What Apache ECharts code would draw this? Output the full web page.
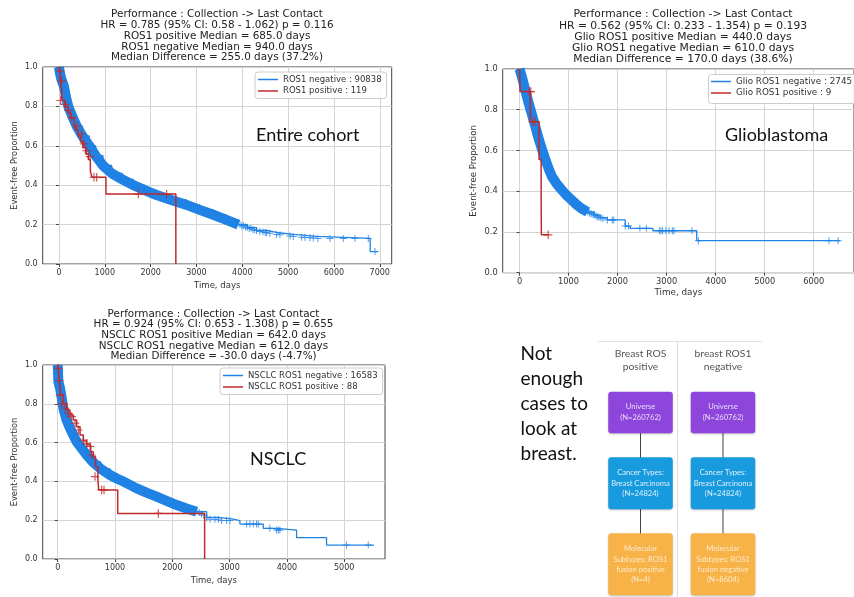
<!DOCTYPE html>
<html><head><meta charset="utf-8">
<script src="https://cdn.jsdelivr.net/npm/echarts@6/dist/echarts.min.js"></script>
<style>html,body{margin:0;padding:0;background:#fff}#c{width:854px;height:597px}</style>
</head><body><div id="c"></div>
<script>
// ---------------- DATA ----------------
// Panel 1: Entire cohort
const p1Titles = ["Performance : Collection -> Last Contact", "HR = 0.785 (95% CI: 0.58 - 1.062) p = 0.116", "ROS1 positive Median = 685.0 days", "ROS1 negative Median = 940.0 days", "Median Difference = 255.0 days (37.2%)"];
const p1Legend = ["ROS1 negative : 90838", "ROS1 positive : 119"];
const p1XTicks = [0, 1000, 2000, 3000, 4000, 5000, 6000, 7000];
const p1NegT = [0, 20, 50, 80, 110, 150, 204, 290, 385, 510, 662, 800, 960, 1150, 1380, 1622, 1870, 2131, 2450, 2785, 3070, 3367, 3640, 3913, 4110, 4313, 4530, 4749, 5113, 5622, 6790, 6960];
const p1NegS = [1.0, 0.97, 0.94, 0.92, 0.9, 0.85, 0.8, 0.75, 0.7, 0.65, 0.6, 0.55, 0.5, 0.46, 0.43, 0.4, 0.375, 0.35, 0.325, 0.3, 0.275, 0.25, 0.225, 0.2, 0.185, 0.17, 0.16, 0.15, 0.14, 0.13, 0.063, 0.063];
const p1NegCensT = [3950, 3990, 4030, 4070, 4110, 4150, 4190, 4230, 4270, 4310, 4380, 4450, 4500, 4531, 4600, 4749, 4822, 5040, 5113, 5295, 5367, 5476, 5549, 5650, 5913, 6204, 6458, 6749, 6895];
const p1NegCensS = [0.2, 0.193, 0.196, 0.188, 0.186, 0.18, 0.182, 0.175, 0.172, 0.17, 0.165, 0.163, 0.16, 0.158, 0.156, 0.15, 0.148, 0.142, 0.14, 0.136, 0.135, 0.133, 0.132, 0.13, 0.13, 0.13, 0.13, 0.13, 0.063];
const p1PosT = [0, 20, 30, 60, 70, 135, 200, 250, 330, 370, 420, 470, 520, 580, 640, 685, 720, 1025, 2550];
const p1PosS = [1.0, 0.97, 0.93, 0.88, 0.83, 0.8, 0.77, 0.74, 0.71, 0.68, 0.65, 0.62, 0.59, 0.56, 0.53, 0.47, 0.44, 0.355, 0.0];
const p1PosCensT = [22, 58, 36, 131, 204, 276, 385, 495, 545, 604, 676, 764, 822, 1731, 2349];
const p1PosCensS = [0.98, 0.93, 0.83, 0.81, 0.78, 0.745, 0.7, 0.66, 0.61, 0.575, 0.545, 0.44, 0.44, 0.355, 0.355];

// Panel 2: Glioblastoma
const p2Titles = ["Performance : Collection -> Last Contact", "HR = 0.562 (95% CI: 0.233 - 1.354) p = 0.193", "Glio ROS1 positive Median = 440.0 days", "Glio ROS1 negative Median = 610.0 days", "Median Difference = 170.0 days (38.6%)"];
const p2Legend = ["Glio ROS1 negative : 2745", "Glio ROS1 positive : 9"];
const p2XTicks = [0, 1000, 2000, 3000, 4000, 5000, 6000];
const p2NegT = [0, 60, 133, 200, 265, 330, 398, 465, 531, 610, 663, 760, 862, 960, 1061, 1160, 1260, 1390, 1525, 1650, 1790, 2155, 2255, 2719, 3614, 6532];
const p2NegS = [1.0, 0.95, 0.88, 0.82, 0.766, 0.71, 0.651, 0.6, 0.553, 0.5, 0.471, 0.435, 0.406, 0.38, 0.357, 0.335, 0.316, 0.298, 0.283, 0.27, 0.259, 0.229, 0.218, 0.206, 0.157, 0.157];
const p2NegCensT = [1393, 1430, 1459, 1500, 1525, 1560, 1592, 1620, 1658, 1700, 1790, 1890, 1923, 2155, 2222, 2454, 2586, 2851, 2885, 2918, 2984, 3050, 3117, 3150, 3515, 3647, 6313, 6499];
const p2NegCensS = [0.298, 0.292, 0.29, 0.286, 0.283, 0.28, 0.275, 0.272, 0.27, 0.265, 0.259, 0.259, 0.259, 0.229, 0.229, 0.218, 0.218, 0.206, 0.206, 0.206, 0.206, 0.206, 0.206, 0.206, 0.206, 0.157, 0.157, 0.157];
const p2PosT = [0, 10, 219, 398, 440, 445, 597];
const p2PosS = [1.0, 0.889, 0.741, 0.556, 0.371, 0.186, 0.186];
const p2PosCensT = [199, 230, 265, 318, 584];
const p2PosCensS = [0.889, 0.889, 0.741, 0.741, 0.186];

// Panel 3: NSCLC
const p3Titles = ["Performance : Collection -> Last Contact", "HR = 0.924 (95% CI: 0.653 - 1.308) p = 0.655", "NSCLC ROS1 positive Median = 642.0 days", "NSCLC ROS1 negative Median = 612.0 days", "Median Difference = -30.0 days (-4.7%)"];
const p3Legend = ["NSCLC ROS1 negative : 16583", "NSCLC ROS1 positive : 88"];
const p3XTicks = [0, 1000, 2000, 3000, 4000, 5000];
const p3NegT = [0, 12, 41, 70, 99, 150, 215, 270, 331, 420, 506, 612, 750, 913, 1030, 1145, 1260, 1378, 1550, 1727, 1900, 2076, 2250, 2424, 2599, 2800, 3064, 3180, 3587, 3820, 4169, 4692, 5520];
const p3NegS = [1.0, 0.914, 0.88, 0.83, 0.777, 0.72, 0.674, 0.64, 0.605, 0.57, 0.536, 0.5, 0.465, 0.433, 0.415, 0.399, 0.382, 0.364, 0.342, 0.321, 0.3, 0.278, 0.26, 0.244, 0.215, 0.205, 0.198, 0.18, 0.158, 0.149, 0.11, 0.072, 0.072];
const p3NegCensT = [2470, 2510, 2550, 2600, 2657, 2744, 2802, 2860, 2948, 3006, 3297, 3355, 3413, 3471, 3500, 3703, 3820, 3849, 3878, 5041, 5419];
const p3NegCensS = [0.24, 0.232, 0.226, 0.212, 0.205, 0.205, 0.205, 0.198, 0.198, 0.198, 0.18, 0.18, 0.18, 0.18, 0.18, 0.158, 0.149, 0.149, 0.149, 0.072, 0.072];
const p3PosT = [0, 29, 52, 99, 157, 215, 273, 331, 390, 448, 506, 576, 622, 660, 700, 715, 1047, 2564];
const p3PosS = [1.0, 0.914, 0.845, 0.802, 0.768, 0.742, 0.716, 0.682, 0.639, 0.608, 0.588, 0.553, 0.527, 0.476, 0.416, 0.356, 0.235, 0.0];
const p3PosCensT = [12, 29, 41, 70, 128, 186, 244, 302, 360, 448, 506, 564, 593, 651, 767, 808, 1756];
const p3PosCensS = [0.983, 0.92, 0.845, 0.8, 0.777, 0.75, 0.734, 0.7, 0.665, 0.613, 0.595, 0.58, 0.536, 0.425, 0.356, 0.356, 0.235];

// Annotations and flowchart text
const panelNotes = ["Entire cohort", "Glioblastoma", "NSCLC"];
const sideNote = ["Not", "enough", "cases to", "look at", "breast."];
const flowHeaders = ["Breast ROS\npositive", "breast ROS1\nnegative"];
const flowUniverse = ["Universe\n(N=260762)", "Universe\n(N=260762)"];
const flowCancer = ["Cancer Types:\nBreast Carcinoma\n(N=24824)", "Cancer Types:\nBreast Carcinoma\n(N=24824)"];
const flowSubtype = ["Molecular\nSubtypes: ROS1\nfusion positive\n(N=4)", "Molecular\nSubtypes: ROS1\nfusion negative\n(N=8604)"];

// ---------------- BUILD ----------------
const BLUE = '#1f82e4', RED = '#bf2a2c';
const FONT = 'DejaVu Sans';
const CROSS = 'path://M-10,-1.4 L10,-1.4 L10,1.4 L-10,1.4 Z M-1.4,-10 L1.4,-10 L1.4,10 L-1.4,10 Z';
const pairs = (t, s) => t.map((v, i) => [v, s[i]]);

const panels = [
  {grid: {left: 42.7, top: 67, width: 349, height: 197}, xmin: -355, xmax: 7260, ticks: p1XTicks, nameGap: 17, k: 1,
   negT: p1NegT, negS: p1NegS, nct: p1NegCensT, ncs: p1NegCensS, posT: p1PosT, posS: p1PosS, pct: p1PosCensT, pcs: p1PosCensS,
   legend: p1Legend, legendPos: {left: 255, top: 72}, boxed: true, titles: p1Titles, titlePos: [217, 9], lh: 10.8, dense: 3913},
  {grid: {left: 502.7, top: 69, width: 360.3, height: 203.7}, xmin: -344, xmax: 6822, ticks: p2XTicks, nameGap: 16, k: 1.035,
   negT: p2NegT, negS: p2NegS, nct: p2NegCensT, ncs: p2NegCensS, posT: p2PosT, posS: p2PosS, pct: p2PosCensT, pcs: p2PosCensS,
   legend: p2Legend, legendPos: {left: 708, top: 74}, boxed: false, titles: p2Titles, titlePos: [683, 9], lh: 11.25, dense: 1390},
  {grid: {left: 42.7, top: 365, width: 342.3, height: 194}, xmin: -262, xmax: 5712, ticks: p3XTicks, nameGap: 17, k: 1,
   negT: p3NegT, negS: p3NegS, nct: p3NegCensT, ncs: p3NegCensS, posT: p3PosT, posS: p3PosS, pct: p3PosCensT, pcs: p3PosCensS,
   legend: p3Legend, legendPos: {left: 220, top: 368}, boxed: true, titles: p3Titles, titlePos: [213.5, 308.5], lh: 10.7, dense: 2424}
];

const grid = [], xAxis = [], yAxis = [], series = [], legend = [], graphic = [];
panels.forEach((p, i) => {
  grid.push(Object.assign({show: true, borderColor: '#444', borderWidth: 1, backgroundColor: 'transparent'}, p.grid));
  xAxis.push({gridIndex: i, type: 'value', min: p.xmin, max: p.xmax,
    axisLine: {show: false},
    axisTick: {show: true, customValues: p.ticks, length: 3, lineStyle: {color: '#444'}},
    axisLabel: {customValues: p.ticks, fontSize: 8 * p.k, color: '#333', margin: 5, fontFamily: FONT, formatter: v => String(v)},
    splitLine: {show: true, lineStyle: {color: '#d4d4d4', width: 1}},
    name: 'Time, days', nameLocation: 'middle', nameGap: p.nameGap,
    nameTextStyle: {fontSize: 8.5 * p.k, color: '#333', fontFamily: FONT}});
  yAxis.push({gridIndex: i, type: 'value', min: 0, max: 1, interval: 0.2,
    axisLine: {show: false},
    axisTick: {show: true, length: 3, lineStyle: {color: '#444'}},
    axisLabel: {fontSize: 8 * p.k, color: '#333', margin: 5, fontFamily: FONT, formatter: v => v.toFixed(1)},
    splitLine: {show: true, lineStyle: {color: '#d4d4d4', width: 1}},
    name: 'Event-free Proportion', nameLocation: 'middle', nameGap: 24, nameRotate: 90,
    nameTextStyle: {fontSize: 8.3 * p.k, color: '#333', fontFamily: FONT}});
  const negPts = pairs(p.negT, p.negS);
  series.push({type: 'line', name: 'band' + i, xAxisIndex: i, yAxisIndex: i, symbol: 'none', silent: true,
    data: negPts.filter(d => d[0] <= p.dense),
    lineStyle: {color: BLUE, width: 10, cap: 'butt', join: 'round'}, itemStyle: {color: BLUE}, z: 2});
  series.push({type: 'line', name: p.legend[0], xAxisIndex: i, yAxisIndex: i, symbol: 'none', step: 'end',
    data: negPts, lineStyle: {color: BLUE, width: 1.3}, itemStyle: {color: BLUE}, z: 3});
  series.push({type: 'scatter', name: 'negc' + i, xAxisIndex: i, yAxisIndex: i, symbol: CROSS, symbolSize: 7,
    data: pairs(p.nct, p.ncs), itemStyle: {color: BLUE}, z: 3});
  series.push({type: 'line', name: p.legend[1], xAxisIndex: i, yAxisIndex: i, symbol: 'none', step: 'end',
    data: pairs(p.posT, p.posS), lineStyle: {color: RED, width: 1.5}, itemStyle: {color: RED}, z: 4});
  series.push({type: 'scatter', name: 'posc' + i, xAxisIndex: i, yAxisIndex: i, symbol: CROSS, symbolSize: 8.5,
    data: pairs(p.pct, p.pcs), itemStyle: {color: RED}, z: 4});
  legend.push(Object.assign({data: p.legend, orient: 'vertical', icon: 'rect', itemWidth: 20, itemHeight: 1.5, itemGap: 2.5,
    padding: [3, 5, 3, 3], borderColor: p.boxed ? '#cccccc' : 'transparent', borderWidth: p.boxed ? 1 : 0, borderRadius: 3,
    backgroundColor: p.boxed ? 'rgba(255,255,255,0.85)' : 'transparent', z: 8,
    selectedMode: false, textStyle: {fontSize: 8.5 * p.k, color: '#333', fontFamily: FONT}}, p.legendPos));
  if (!p.boxed) {
    // legend frame running past the right edge of the picture, as in the cropped original
    graphic.push({type: 'rect', z: 7, shape: {x: p.legendPos.left + 0.5, y: p.legendPos.top + 0.5, width: 200, height: 29, r: 3},
      style: {fill: 'rgba(255,255,255,0.9)', stroke: '#cccccc', lineWidth: 1}});
  }
  graphic.push({type: 'text', x: p.titlePos[0], y: p.titlePos[1], z: 10,
    style: {text: p.titles.join('\n'), align: 'center', verticalAlign: 'top', fontSize: 10.4 * p.k, lineHeight: p.lh, fontFamily: FONT, fill: '#222'}});
});

// in-plot annotations
const notePos = [[256, 135], [725, 135], [250, 459]];
panelNotes.forEach((t, i) => graphic.push({type: 'text', x: notePos[i][0], y: notePos[i][1], z: 10,
  style: {text: t, align: 'left', verticalAlign: 'middle', fontSize: 18, fontFamily: 'Lato', fill: '#111'}}));
graphic.push({type: 'text', x: 520.5, y: 341.5, z: 10,
  style: {text: sideNote.join('\n'), align: 'left', verticalAlign: 'top', fontSize: 19, lineHeight: 25, fontFamily: 'Lato', fill: '#111'}});

// flowchart
graphic.push({type: 'line', shape: {x1: 598, y1: 341.5, x2: 762, y2: 341.5}, style: {stroke: '#e2e2e2', lineWidth: 1}});
graphic.push({type: 'line', shape: {x1: 677.5, y1: 342, x2: 677.5, y2: 597}, style: {stroke: '#dddddd', lineWidth: 1}});
const colX = [640.5, 723];
const boxW = 64.5;
const rows = [
  {texts: flowUniverse, y: 391.7, h: 41.6, fill: '#8d45dc', text: '#e8dcf8', lh: 11},
  {texts: flowCancer, y: 457.3, h: 52, fill: '#179ade', text: '#dff1fb', lh: 10.4},
  {texts: flowSubtype, y: 533.3, h: 62, fill: '#f7b248', text: '#fdeacb', lh: 10.3}
];
colX.forEach((cx, c) => {
  graphic.push({type: 'text', x: cx, y: 346.5, z: 10,
    style: {text: flowHeaders[c], align: 'center', verticalAlign: 'top', fontSize: 10.3, lineHeight: 13.7, fontFamily: 'Lato', fill: '#555'}});
  graphic.push({type: 'line', shape: {x1: cx, y1: 433, x2: cx, y2: 458}, style: {stroke: '#444', lineWidth: 1}});
  graphic.push({type: 'line', shape: {x1: cx, y1: 509, x2: cx, y2: 534}, style: {stroke: '#444', lineWidth: 1}});
  rows.forEach(r => {
    graphic.push({type: 'rect', shape: {x: cx - boxW / 2, y: r.y, width: boxW, height: r.h, r: 3},
      style: {fill: r.fill, shadowBlur: 2, shadowColor: 'rgba(0,0,0,0.25)', shadowOffsetY: 1}});
    graphic.push({type: 'text', x: cx, y: r.y + r.h / 2, z: 10,
      style: {text: r.texts[c], align: 'center', verticalAlign: 'middle', fontSize: 7.6, lineHeight: r.lh, fontFamily: 'Lato', fill: r.text}});
  });
});

const chart = echarts.init(document.getElementById('c'), null, {renderer: 'canvas'});
chart.setOption({animation: false, backgroundColor: '#fff', grid, xAxis, yAxis, series, legend, graphic});
</script></body></html>
